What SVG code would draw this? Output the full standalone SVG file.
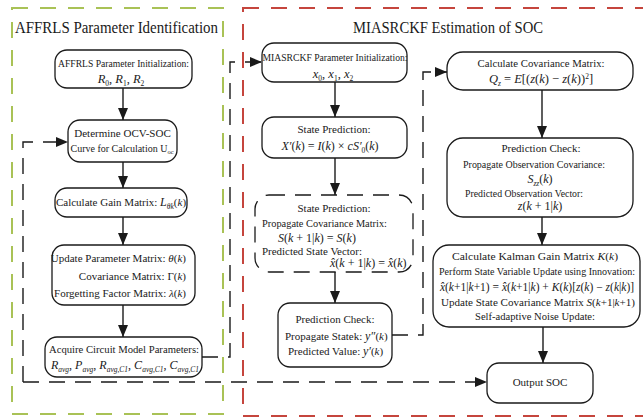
<svg xmlns="http://www.w3.org/2000/svg" width="643" height="419" viewBox="0 0 643 419">
<defs>
<style>
.box{fill:#fff;stroke:#1a1a1a;stroke-width:1.3}
.t{font-family:"Liberation Serif","Times New Roman",serif;font-size:11px;fill:#1a1a1a}
.f{font-size:12px}
.ti{font-family:"Liberation Serif","Times New Roman",serif;font-size:16px;fill:#1a1a1a}
.i{font-style:italic}
.n{font-style:normal}
.s{font-size:7.5px}
.conn{fill:none;stroke:#1a1a1a;stroke-width:1.4}
.dash{stroke-dasharray:16 10}
.frame{fill:none;stroke-width:2;stroke-dasharray:16 12}
</style>
<marker id="ah" viewBox="0 0 12 10" refX="12" refY="5" markerWidth="12" markerHeight="10" markerUnits="userSpaceOnUse" orient="auto">
<path d="M0,0 L12,5 L0,10 z" fill="#1a1a1a"/>
</marker>
</defs>
<rect width="643" height="419" fill="#fff"/>

<g id="frames">
<rect class="frame" x="12" y="8" width="211" height="406" stroke="#a9c256"/>
<rect class="frame" x="243" y="8" width="420" height="408" stroke="#c5453d"/>
<text class="ti" x="15" y="33" textLength="203" lengthAdjust="spacingAndGlyphs">AFFRLS Parameter Identification</text>
<text class="ti" x="353" y="33" textLength="190" lengthAdjust="spacingAndGlyphs">MIASRCKF Estimation of SOC</text>
</g>

<g id="connectors">
<path class="conn" d="M123,88 V120" marker-end="url(#ah)"/>
<path class="conn" d="M123,162 V188" marker-end="url(#ah)"/>
<path class="conn" d="M123,217 V245" marker-end="url(#ah)"/>
<path class="conn" d="M123,305 V337" marker-end="url(#ah)"/>
<path class="conn" d="M335,82 V117" marker-end="url(#ah)"/>
<path class="conn" d="M335,158 V195" marker-end="url(#ah)"/>
<path class="conn" d="M335,272 V303" marker-end="url(#ah)"/>
<path class="conn" d="M542,90 V138" marker-end="url(#ah)"/>
<path class="conn" d="M542,217 V245" marker-end="url(#ah)"/>
<path class="conn" d="M543,327 V363" marker-end="url(#ah)"/>
<path class="conn dash" d="M202,357 H230 V62 H262" marker-end="url(#ah)"/>
<path class="conn dash" d="M392,335 H423 V72 H447" marker-end="url(#ah)"/>
<path class="conn dash" d="M23,382 H487" marker-end="url(#ah)"/>
<path class="conn dash" d="M23,382 V142 H68" marker-end="url(#ah)"/>
</g>

<g id="n1">
<rect class="box" x="55" y="50" width="137" height="38" rx="12"/>
<text class="t" x="123.5" y="67" text-anchor="middle" textLength="131" lengthAdjust="spacingAndGlyphs">AFFRLS Parameter Initialization:</text>
<text class="t i" x="121" y="83" text-anchor="middle" style="font-size:12.5px">R<tspan class="s n" dy="2.5">0</tspan><tspan class="n" dy="-2.5">, </tspan>R<tspan class="s n" dy="2.5">1</tspan><tspan class="n" dy="-2.5">, </tspan>R<tspan class="s n" dy="2.5">2</tspan></text>
</g>

<g id="n2">
<rect class="box" x="68" y="120" width="109" height="42" rx="12"/>
<text class="t" x="122.5" y="137" text-anchor="middle">Determine OCV-SOC</text>
<text class="t" x="122" y="152" text-anchor="middle" style="font-size:10px">Curve for Calculation U<tspan style="font-size:6.5px" dy="2">oc</tspan></text>
</g>

<g id="n3">
<rect class="box" x="55" y="188" width="132" height="29" rx="12"/>
<text class="t" x="121" y="206" text-anchor="middle">Calculate Gain Matrix: <tspan class="i f">L</tspan><tspan class="s i" dy="2.5">θk</tspan><tspan dy="-2.5">(</tspan><tspan class="i">k</tspan>)</text>
</g>

<g id="n4">
<rect class="box" x="52" y="245" width="143" height="60" rx="12"/>
<text class="t" x="186" y="262" text-anchor="end">Update Parameter Matrix: <tspan class="i">θ</tspan>(<tspan class="i">k</tspan>)</text>
<text class="t" x="186" y="280" text-anchor="end">Covariance Matrix: Γ(<tspan class="i">k</tspan>)</text>
<text class="t" x="186" y="297" text-anchor="end">Forgetting Factor Matrix: <tspan class="i">λ</tspan>(<tspan class="i">k</tspan>)</text>
</g>

<g id="n5">
<rect class="box" x="45" y="337" width="157" height="40" rx="12"/>
<text class="t" x="124" y="353" text-anchor="middle" textLength="150" lengthAdjust="spacingAndGlyphs">Acquire Circuit Model Parameters:</text>
<text class="t i f" x="125" y="369" text-anchor="middle">R<tspan class="s" dy="2.5">avg</tspan><tspan class="n" dy="-2.5">, </tspan>P<tspan class="s" dy="2.5">avg</tspan><tspan class="n" dy="-2.5">, </tspan>R<tspan class="s" dy="2.5">avg,C1</tspan><tspan class="n" dy="-2.5">, </tspan>C<tspan class="s" dy="2.5">avg,C1</tspan><tspan class="n" dy="-2.5">, </tspan>C<tspan class="s" dy="2.5">avg,C1</tspan></text>
</g>

<g id="n6">
<rect class="box" x="262" y="43" width="145" height="39" rx="12"/>
<text class="t" x="335" y="61" text-anchor="middle" textLength="145" lengthAdjust="spacingAndGlyphs">MIASRCKF Parameter Initialization:</text>
<text class="t i" x="333" y="78" text-anchor="middle" style="font-size:12.5px">x<tspan class="s n" dy="2.5">0</tspan><tspan class="n" dy="-2.5">, </tspan>x<tspan class="s n" dy="2.5">1</tspan><tspan class="n" dy="-2.5">, </tspan>x<tspan class="s n" dy="2.5">2</tspan></text>
</g>

<g id="n7">
<rect class="box" x="262" y="117" width="145" height="41" rx="12"/>
<text class="t" x="334" y="133" text-anchor="middle">State Prediction:</text>
<text class="t f" x="330" y="150" text-anchor="middle"><tspan class="i">X′</tspan>(<tspan class="i">k</tspan>) = <tspan class="i">I</tspan>(<tspan class="i">k</tspan>) × <tspan class="i">cS′</tspan><tspan class="s" dy="2.5">0</tspan><tspan dy="-2.5">(</tspan><tspan class="i">k</tspan>)</text>
</g>

<g id="n8">
<rect class="box dash" x="255" y="195" width="158" height="77" rx="14"/>
<text class="t" x="334" y="212" text-anchor="middle">State Prediction:</text>
<text class="t" x="262" y="227" textLength="125" lengthAdjust="spacingAndGlyphs">Propagate Covariance Matrix:</text>
<text class="t f" x="278" y="242"><tspan class="i">S</tspan>(<tspan class="i">k</tspan> + 1|<tspan class="i">k</tspan>) = <tspan class="i">S</tspan>(<tspan class="i">k</tspan>)</text>
<text class="t" x="262" y="255" textLength="100" lengthAdjust="spacingAndGlyphs">Predicted State Vector:</text>
<text class="t f" x="330" y="267"><tspan class="i">x̂</tspan>(<tspan class="i">k</tspan> + 1|<tspan class="i">k</tspan>) = <tspan class="i">x̂</tspan>(<tspan class="i">k</tspan>)</text>
</g>

<g id="n9">
<rect class="box" x="278" y="303" width="114" height="64" rx="12"/>
<text class="t" x="335" y="323" text-anchor="middle">Prediction Check:</text>
<text class="t" x="285" y="340">Propagate Statek: <tspan class="i f">y″</tspan>(<tspan class="i">k</tspan>)</text>
<text class="t" x="288" y="355">Predicted Value: <tspan class="i f">y′</tspan>(<tspan class="i">k</tspan>)</text>
</g>

<g id="n10">
<rect class="box" x="447" y="52" width="186" height="38" rx="16"/>
<text class="t" x="541" y="67" text-anchor="middle" textLength="127" lengthAdjust="spacingAndGlyphs">Calculate Covariance Matrix:</text>
<text class="t" x="541" y="83" text-anchor="middle" style="font-size:12.5px"><tspan class="i">Q</tspan><tspan class="s i" dy="2.5">z</tspan><tspan dy="-2.5"> = </tspan><tspan class="i">E</tspan>[(<tspan class="i">z</tspan>(<tspan class="i">k</tspan>) − <tspan class="i">z</tspan>(<tspan class="i">k</tspan>))<tspan class="s" dy="-4">2</tspan><tspan dy="4">]</tspan></text>
</g>

<g id="n11">
<rect class="box" x="447" y="138" width="186" height="79" rx="16"/>
<text class="t" x="541" y="152" text-anchor="middle">Prediction Check:</text>
<text class="t" x="534" y="168" text-anchor="middle" textLength="142" lengthAdjust="spacingAndGlyphs">Propagate Observation Covariance:</text>
<text class="t f" x="540" y="183" text-anchor="middle"><tspan class="i">S</tspan><tspan class="s i" dy="2.5">zz</tspan><tspan dy="-2.5">(</tspan><tspan class="i">k</tspan>)</text>
<text class="t" x="465" y="197" textLength="118" lengthAdjust="spacingAndGlyphs">Predicted Observation Vector:</text>
<text class="t f" x="540" y="210" text-anchor="middle"><tspan class="i">z</tspan>(<tspan class="i">k</tspan> + 1|<tspan class="i">k</tspan>)</text>
</g>

<g id="n12">
<rect class="box" x="433" y="245" width="207" height="82" rx="16"/>
<text class="t" x="535" y="260" text-anchor="middle" textLength="166" lengthAdjust="spacingAndGlyphs">Calculate Kalman Gain Matrix <tspan class="i">K</tspan>(<tspan class="i">k</tspan>)</text>
<text class="t" x="537" y="275" text-anchor="middle" style="font-size:10px" textLength="196" lengthAdjust="spacingAndGlyphs">Perform State Variable Update using Innovation:</text>
<text class="t" x="537" y="291" text-anchor="middle" style="font-size:11.5px"><tspan class="i">x̂</tspan>(<tspan class="i">k</tspan>+1|<tspan class="i">k</tspan>+1) = <tspan class="i">x̂</tspan>(<tspan class="i">k</tspan>+1|<tspan class="i">k</tspan>) + <tspan class="i">K</tspan>(<tspan class="i">k</tspan>)[<tspan class="i">z</tspan>(<tspan class="i">k</tspan>) − <tspan class="i">z</tspan>(<tspan class="i">k</tspan>|<tspan class="i">k</tspan>)]</text>
<text class="t" x="538" y="306" text-anchor="middle" textLength="194" lengthAdjust="spacingAndGlyphs">Update State Covariance Matrix <tspan class="i">S</tspan>(<tspan class="i">k</tspan>+1|<tspan class="i">k</tspan>+1)</text>
<text class="t" x="535" y="320" text-anchor="middle" textLength="120" lengthAdjust="spacingAndGlyphs">Self-adaptive Noise Update:</text>
</g>

<g id="n13">
<rect class="box" x="487" y="363" width="106" height="40" rx="12"/>
<text class="t" x="540" y="386" text-anchor="middle">Output SOC</text>
</g>
</svg>
